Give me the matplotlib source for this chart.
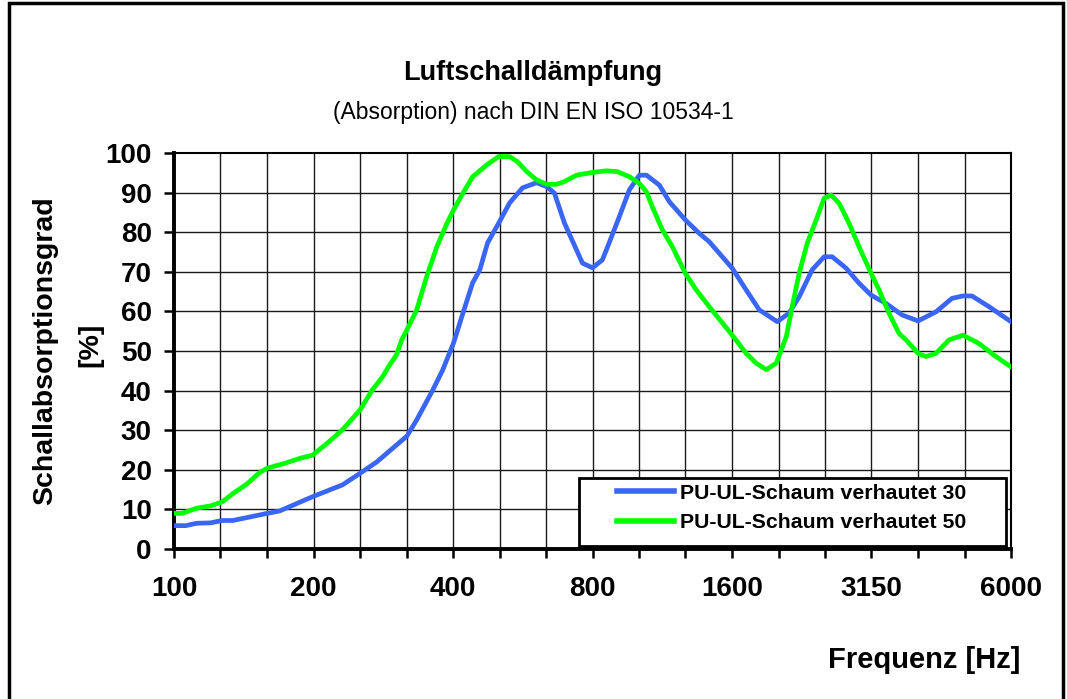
import matplotlib
matplotlib.use("Agg")
import matplotlib.pyplot as plt
from matplotlib.patches import Rectangle

plt.rcParams['font.family'] = ['Liberation Sans', 'DejaVu Sans']

# Terzband-Mittenfrequenzen (Gitterlinien) und beschriftete Baender
bands = [100, 125, 160, 200, 250, 315, 400, 500, 630, 800, 1000,
         1250, 1600, 2000, 2500, 3150, 4000, 5000, 6300]
tick_pos = [100, 200, 400, 800, 1600, 3200, 6400]
tick_labels = ['100', '200', '400', '800', '1600', '3150', '6000']

# PU-UL-Schaum verhautet 30
f30 = [100, 106, 112, 120, 127, 134, 159, 169, 199, 231, 252, 274, 318, 334,
       362, 380, 401, 418, 441, 457, 475, 502, 530, 565, 606, 637, 662, 696,
       739, 761, 800, 840, 857, 914, 961, 1010, 1046, 1115, 1172, 1269, 1360,
       1429, 1602, 1717, 1832, 2003, 2126, 2234, 2383, 2529, 2632, 2821, 3009,
       3194, 3441, 3725, 4033, 4409, 4774, 5042, 5271, 5736, 6400]
a30 = [5.9, 5.9, 6.5, 6.6, 7.2, 7.2, 9.0, 9.6, 13.2, 16.2, 19.1, 22.0, 28.5,
       32.6, 40.2, 45.2, 52.0, 58.7, 67.2, 70.5, 77.3, 82.3, 87.4, 91.2, 92.5,
       91.5, 89.9, 82.3, 75.5, 72.2, 71.0, 73.0, 75.5, 83.9, 90.7, 94.4, 94.4,
       91.9, 87.7, 83.1, 79.7, 77.6, 70.9, 65.4, 60.4, 57.4, 59.6, 63.7, 70.5,
       73.8, 73.8, 70.9, 67.1, 64.1, 62.0, 59.1, 57.6, 59.9, 63.3, 63.9, 63.9,
       61.2, 57.4]

# PU-UL-Schaum verhautet 50
f50 = [100, 104, 112, 120, 127, 134, 144, 153, 159, 173, 187, 199, 214, 231,
       252, 268, 282, 292, 302, 310, 318, 334, 351, 369, 388, 401, 420, 441,
       473, 502, 530, 551, 577, 606, 637, 669, 696, 739, 800, 857, 905, 961,
       1010, 1046, 1077, 1132, 1190, 1269, 1340, 1429, 1602, 1717, 1805, 1897,
       1993, 2095, 2158, 2234, 2325, 2431, 2529, 2619, 2725, 2864, 3009, 3194,
       3323, 3492, 3670, 3800, 4033, 4196, 4409, 4704, 5042, 5458, 5939, 6400]
a50 = [9.0, 9.0, 10.3, 10.9, 11.9, 14.0, 16.5, 19.3, 20.4, 21.6, 22.9, 23.7,
       26.7, 30.1, 35.1, 40.2, 43.5, 46.5, 49.0, 52.8, 55.3, 60.4, 68.8, 76.3,
       82.2, 85.6, 89.8, 94.0, 97.0, 99.1, 99.1, 97.8, 95.3, 93.2, 92.1, 92.1,
       92.8, 94.4, 95.1, 95.5, 95.3, 94.0, 92.3, 90.2, 86.4, 80.6, 76.3, 69.6,
       65.4, 61.2, 54.0, 49.4, 46.9, 45.3, 46.9, 53.6, 61.2, 69.6, 77.2, 83.1,
       88.6, 89.4, 87.3, 82.2, 76.3, 69.6, 65.4, 59.5, 54.4, 52.8, 49.4, 48.6,
       49.4, 52.8, 54.0, 51.9, 48.6, 46.0]

W, H = 1067, 699
fig = plt.figure(figsize=(W / 100, H / 100), dpi=100)
ax = fig.add_axes([174 / W, 150 / H, 837 / W, 396 / H])

ax.plot(f30, a30, color='#3a66f5', lw=3.4, label='PU-UL-Schaum verhautet 30',
        solid_joinstyle='round', zorder=3)
ax.plot(f50, a50, color='#00ff00', lw=3.4, label='PU-UL-Schaum verhautet 50',
        solid_joinstyle='round', zorder=3)

ax.set_xscale('log')
ax.set_xlim(100, 6400)
ax.set_ylim(0, 100)
ax.set_xticks(tick_pos)
ax.set_xticklabels(tick_labels)
ax.set_xticks([100 * 2 ** (i / 3) for i in range(len(bands))], minor=True)
ax.xaxis.set_minor_formatter(plt.NullFormatter())
ax.set_yticks(range(0, 101, 10))

for i in range(1, len(bands) - 1):
    ax.axvline(100 * 2 ** (i / 3), color='#1a1a1a', lw=1, zorder=1)
for v in range(10, 100, 10):
    ax.axhline(v, color='#1a1a1a', lw=1, zorder=1)

ax.tick_params(axis='both', which='both', direction='out', width=1.8, color='black')
ax.tick_params(axis='x', which='both', length=6.5, pad=13, labelsize=20)
ax.tick_params(axis='y', length=7, pad=9, labelsize=20)
for lab in ax.get_xticklabels() + ax.get_yticklabels():
    lab.set_fontweight('bold')

ax.spines['left'].set_linewidth(2.8)
ax.spines['bottom'].set_linewidth(2.8)
ax.spines['top'].set_linewidth(1.5)
ax.spines['right'].set_linewidth(1.5)

fig.text(45 / W, 1 - 351 / H, 'Schallabsorptionsgrad', rotation=90,
         ha='center', va='center', fontsize=20.5, fontweight='bold')
fig.text(90 / W, 1 - 345 / H, '[%]', rotation=90,
         ha='center', va='center', fontsize=20.5, fontweight='bold')
fig.text(1020 / W, 1 - 660 / H, 'Frequenz [Hz]', ha='right', va='center',
         fontsize=21, fontweight='bold')

fig.text(533 / W, 1 - 73 / H, 'Luftschalldämpfung', ha='center', va='center',
         fontsize=19.5, fontweight='bold')
fig.text(533 / W, 1 - 112 / H, '(Absorption) nach DIN EN ISO 10534-1',
         ha='center', va='center', fontsize=16.5)

# Legende: Rahmen wie im Original, Eintraege ohne eigenen Rahmen
ax.add_patch(Rectangle(((579 - 174) / 837, (549 - 546) / 396), 427 / 837, 68 / 396,
                       transform=ax.transAxes, facecolor='white',
                       edgecolor='black', lw=2, zorder=4))
leg = ax.legend(loc='center left', bbox_to_anchor=((617 - 174) / 837, (549 - 508) / 396),
                prop={'weight': 'bold', 'size': 15.3}, frameon=False,
                handlelength=2.7, handletextpad=0.25, labelspacing=0.5,
                borderpad=0, borderaxespad=0)
leg.set_zorder(5)
for h in leg.get_lines():
    h.set_linewidth(4)

fig.patches.append(Rectangle((9 / W, -0.05), 1054 / W, 1.05 - 3 / H,
                             transform=fig.transFigure, fill=False,
                             edgecolor='black', lw=2.5))

fig.savefig('out.png', dpi=100)
